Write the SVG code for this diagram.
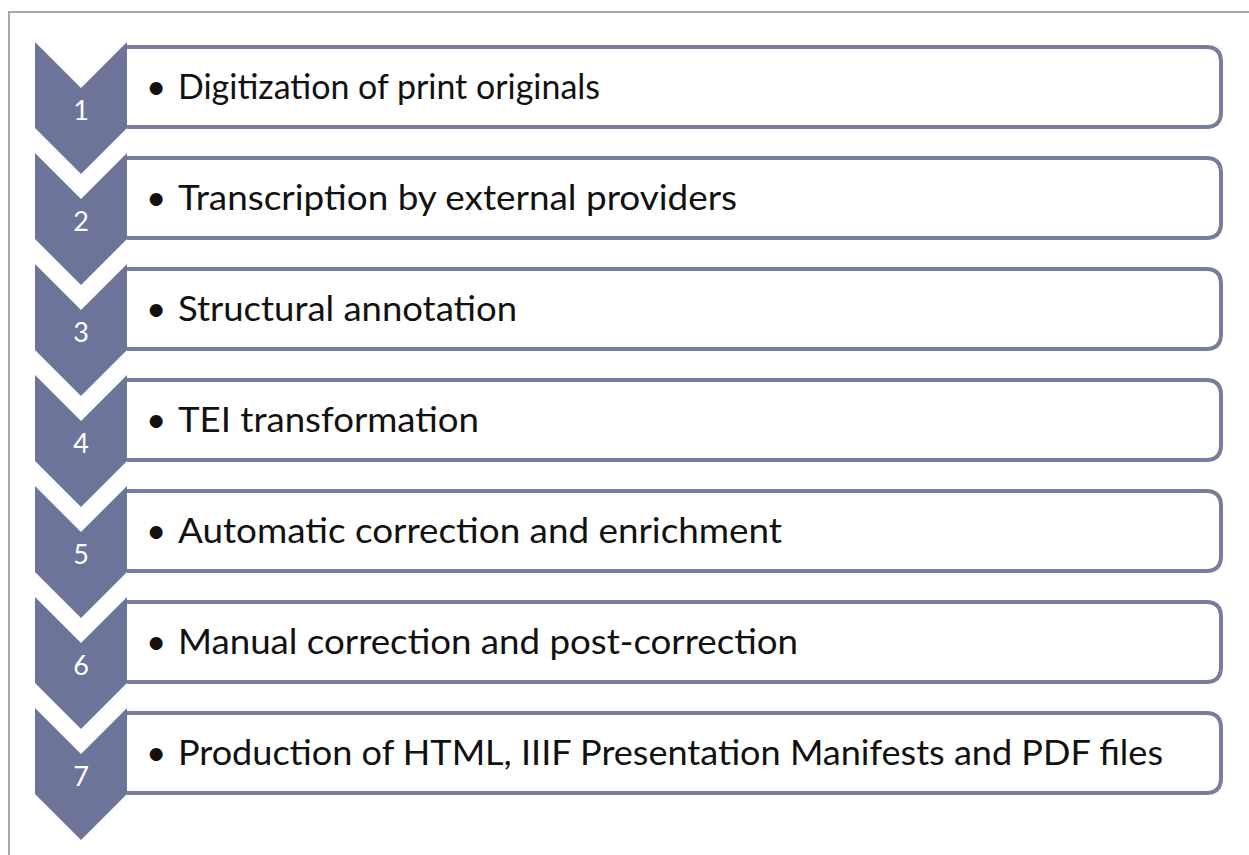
<svg xmlns="http://www.w3.org/2000/svg" width="1249" height="855" viewBox="0 0 1249 855">
<style>
.frame{fill:none;stroke:#a8a8a8;stroke-width:2}
.box{fill:#ffffff;stroke:#787d9c;stroke-width:4}
.chev{fill:#6c7499}
.num{font-family:Lato,"Open Sans",sans-serif;font-size:27px;fill:#ffffff;text-anchor:middle}
.lbl{font-family:Lato,"Open Sans",sans-serif;font-size:35px;fill:#111111}
</style>
<defs>
<path id="chevron" d="M35,0 L81,46 L127,0 L127,86 L81,132 L35,86 Z"/>
<path id="boxshape" d="M127,5 H1206 Q1221,5 1221,20 V70 Q1221,85 1206,85 H127"/>
</defs>
<rect width="1249" height="855" fill="#ffffff"/>
<path class="frame" d="M9,855 V12 H1249"/>
<g id="connectors"></g>
<g id="step1" transform="translate(0,42)">
<use href="#boxshape" class="box"/>
<use href="#chevron" class="chev"/>
<text class="num" x="81" y="78">1</text>
<text class="lbl" x="146" y="57">•</text>
<text class="lbl" x="178" y="57" textLength="422" lengthAdjust="spacingAndGlyphs">Digitization of print originals</text>
</g>
<g id="step2" transform="translate(0,153)">
<use href="#boxshape" class="box"/>
<use href="#chevron" class="chev"/>
<text class="num" x="81" y="78">2</text>
<text class="lbl" x="146" y="57">•</text>
<text class="lbl" x="178" y="57" textLength="559" lengthAdjust="spacingAndGlyphs">Transcription by external providers</text>
</g>
<g id="step3" transform="translate(0,264)">
<use href="#boxshape" class="box"/>
<use href="#chevron" class="chev"/>
<text class="num" x="81" y="78">3</text>
<text class="lbl" x="146" y="57">•</text>
<text class="lbl" x="178" y="57" textLength="339" lengthAdjust="spacingAndGlyphs">Structural annotation</text>
</g>
<g id="step4" transform="translate(0,375)">
<use href="#boxshape" class="box"/>
<use href="#chevron" class="chev"/>
<text class="num" x="81" y="78">4</text>
<text class="lbl" x="146" y="57">•</text>
<text class="lbl" x="178" y="57" textLength="301" lengthAdjust="spacingAndGlyphs">TEI transformation</text>
</g>
<g id="step5" transform="translate(0,486)">
<use href="#boxshape" class="box"/>
<use href="#chevron" class="chev"/>
<text class="num" x="81" y="78">5</text>
<text class="lbl" x="146" y="57">•</text>
<text class="lbl" x="178" y="57" textLength="604" lengthAdjust="spacingAndGlyphs">Automatic correction and enrichment</text>
</g>
<g id="step6" transform="translate(0,597)">
<use href="#boxshape" class="box"/>
<use href="#chevron" class="chev"/>
<text class="num" x="81" y="78">6</text>
<text class="lbl" x="146" y="57">•</text>
<text class="lbl" x="178" y="57" textLength="620" lengthAdjust="spacingAndGlyphs">Manual correction and post-correction</text>
</g>
<g id="step7" transform="translate(0,708)">
<use href="#boxshape" class="box"/>
<use href="#chevron" class="chev"/>
<text class="num" x="81" y="78">7</text>
<text class="lbl" x="146" y="57">•</text>
<text class="lbl" x="178" y="57" textLength="985" lengthAdjust="spacingAndGlyphs">Production of HTML, IIIF Presentation Manifests and PDF files</text>
</g>
</svg>
